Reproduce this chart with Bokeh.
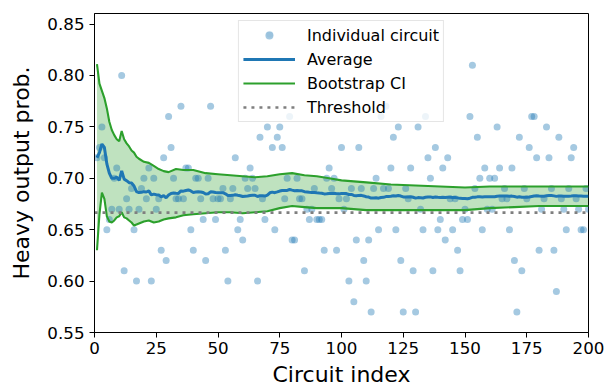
import numpy as np
from bokeh.plotting import figure
from bokeh.models import FixedTicker, PrintfTickFormatter, Legend, LegendItem
from bokeh.embed import file_html
from bokeh.resources import INLINE

# Heavy output probability of each circuit (circuit index 1..200)
hop = [
    0.72, 0.73, 0.75, 0.72, 0.65, 0.66, 0.67, 0.70, 0.71, 0.67,
    0.80, 0.61, 0.68, 0.67, 0.69, 0.65, 0.60, 0.67, 0.69, 0.70,
    0.68, 0.71, 0.60, 0.70, 0.67, 0.68, 0.63, 0.72, 0.62, 0.76,
    0.73, 0.70, 0.68, 0.68, 0.77, 0.68, 0.71, 0.71, 0.65, 0.63,
    0.70, 0.70, 0.68, 0.66, 0.62, 0.70, 0.77, 0.68, 0.66, 0.68,
    0.68, 0.69, 0.63, 0.60, 0.68, 0.69, 0.72, 0.65, 0.66, 0.64,
    0.70, 0.69, 0.71, 0.70, 0.69, 0.60, 0.74, 0.68, 0.66, 0.75,
    0.84, 0.73, 0.65, 0.74, 0.75, 0.73, 0.68, 0.70, 0.76, 0.64,
    0.64, 0.70, 0.68, 0.68, 0.61, 0.67, 0.66, 0.67, 0.69, 0.66,
    0.66, 0.66, 0.63, 0.70, 0.71, 0.69, 0.70, 0.63, 0.68, 0.73,
    0.67, 0.68, 0.60, 0.69, 0.58, 0.64, 0.73, 0.69, 0.62, 0.60,
    0.64, 0.57, 0.69, 0.70, 0.65, 0.76, 0.69, 0.77, 0.69, 0.71,
    0.74, 0.65, 0.75, 0.62, 0.57, 0.69, 0.68, 0.71, 0.61, 0.57,
    0.75, 0.67, 0.65, 0.76, 0.72, 0.70, 0.61, 0.73, 0.65, 0.66,
    0.71, 0.64, 0.72, 0.68, 0.65, 0.68, 0.63, 0.61, 0.66, 0.67,
    0.66, 0.76, 0.81, 0.69, 0.74, 0.70, 0.65, 0.71, 0.67, 0.70,
    0.67, 0.70, 0.75, 0.71, 0.68, 0.69, 0.68, 0.65, 0.71, 0.62,
    0.57, 0.74, 0.61, 0.69, 0.68, 0.73, 0.76, 0.76, 0.72, 0.63,
    0.67, 0.68, 0.75, 0.72, 0.69, 0.63, 0.59, 0.74, 0.68, 0.67,
    0.65, 0.69, 0.72, 0.73, 0.68, 0.67, 0.65, 0.65, 0.69, 0.67,
]
circuit = np.arange(1, len(hop) + 1)

# Running mean of the heavy output probability
average = np.cumsum(hop) / circuit

# Bootstrap confidence interval bounds
ci_x = [1, 2, 3, 4, 5, 6, 7, 8, 9, 10, 11, 12, 13, 14, 15, 16, 17, 18, 20, 22,
        24, 26, 28, 30, 33, 36, 40, 45, 50, 55, 60, 65, 70, 75, 80, 85, 90, 95,
        100, 110, 120, 130, 140, 150, 160, 170, 180, 190, 200]
ci_upper = [0.811, 0.792, 0.785, 0.778, 0.768, 0.755, 0.747, 0.742, 0.738, 0.736,
            0.746, 0.738, 0.734, 0.731, 0.727, 0.725, 0.721, 0.719, 0.716, 0.715,
            0.712, 0.709, 0.707, 0.706, 0.709, 0.708, 0.708, 0.705, 0.704, 0.703,
            0.702, 0.701, 0.702, 0.704, 0.705, 0.703, 0.702, 0.700, 0.698, 0.696,
            0.694, 0.693, 0.692, 0.691, 0.692, 0.692, 0.692, 0.692, 0.692]
ci_lower = [0.630, 0.665, 0.686, 0.680, 0.663, 0.658, 0.657, 0.659, 0.662, 0.663,
            0.667, 0.662, 0.661, 0.659, 0.657, 0.654, 0.655, 0.656, 0.658, 0.659,
            0.657, 0.658, 0.660, 0.661, 0.662, 0.664, 0.665, 0.666, 0.667, 0.667,
            0.666, 0.667, 0.668, 0.671, 0.673, 0.672, 0.671, 0.671, 0.671, 0.669,
            0.669, 0.669, 0.669, 0.669, 0.671, 0.672, 0.673, 0.673, 0.673]

threshold = 2 / 3
x_ticks = [0, 25, 50, 75, 100, 125, 150, 175, 200]
y_ticks = [0.55, 0.60, 0.65, 0.70, 0.75, 0.80, 0.85]

FONT = "DejaVu Sans"
BLUE = "#1f77b4"
GREEN = "#2ca02c"
GRAY = "#7f7f7f"

p = figure(width=606, height=389, x_range=(0, 200), y_range=(0.55, 0.8603),
           output_backend="svg", toolbar_location=None,
           min_border_left=94, min_border_right=18,
           min_border_top=13, min_border_bottom=56)

band = p.varea(x=ci_x, y1=ci_lower, y2=ci_upper, fill_color=GREEN, fill_alpha=0.3)
pts = p.scatter(circuit, hop, size=7, fill_color=BLUE, fill_alpha=0.4,
                line_color=None)
up = p.line(ci_x, ci_upper, line_color=GREEN, line_width=2.1)
lo = p.line(ci_x, ci_lower, line_color=GREEN, line_width=2.1)
avg = p.line(circuit, average, line_color=BLUE, line_width=3)
thr = p.line([0, 200], [threshold, threshold], line_color=GRAY, line_width=2.7,
             line_dash="3 5", line_cap="butt")

legend = Legend(items=[
    LegendItem(label="Individual circuit", renderers=[pts]),
    LegendItem(label="Average", renderers=[avg]),
    LegendItem(label="Bootstrap CI", renderers=[up]),
    LegendItem(label="Threshold", renderers=[thr]),
], location="top_center")
legend.margin = 7
legend.padding = 4
legend.spacing = 4
legend.glyph_width = 52
legend.glyph_height = 20
legend.label_height = 20
legend.label_standoff = 12
legend.label_text_font = FONT
legend.label_text_font_size = "16px"
legend.label_text_color = "black"
legend.border_line_color = "#cccccc"
legend.border_line_width = 1
legend.background_fill_color = "white"
legend.background_fill_alpha = 0.8
p.add_layout(legend)

p.xgrid.visible = False
p.ygrid.visible = False
p.outline_line_color = "black"
p.outline_line_width = 1
p.outline_line_alpha = 1

p.xaxis.ticker = FixedTicker(ticks=x_ticks)
p.yaxis.ticker = FixedTicker(ticks=y_ticks)
p.xaxis.formatter = PrintfTickFormatter(format="%d")
p.yaxis.formatter = PrintfTickFormatter(format="%.2f")
p.xaxis.axis_label = "Circuit index"
p.yaxis.axis_label = "Heavy output prob."

for ax in (p.xaxis, p.yaxis):
    ax.axis_line_color = "black"
    ax.axis_line_width = 1
    ax.major_tick_line_color = "black"
    ax.major_tick_line_width = 1
    ax.major_tick_out = 5
    ax.major_tick_in = 0
    ax.minor_tick_line_color = None
    ax.major_label_text_font = FONT
    ax.major_label_text_font_size = "16.7px"
    ax.major_label_text_color = "black"
    ax.axis_label_text_font = FONT
    ax.axis_label_text_font_size = "22px"
    ax.axis_label_text_font_style = "normal"
    ax.axis_label_text_color = "black"

p.xaxis.major_label_standoff = 4
p.xaxis.axis_label_standoff = 5
p.yaxis.major_label_standoff = 5
p.yaxis.axis_label_standoff = 10

open("out.html", "w").write(file_html(p, INLINE))
